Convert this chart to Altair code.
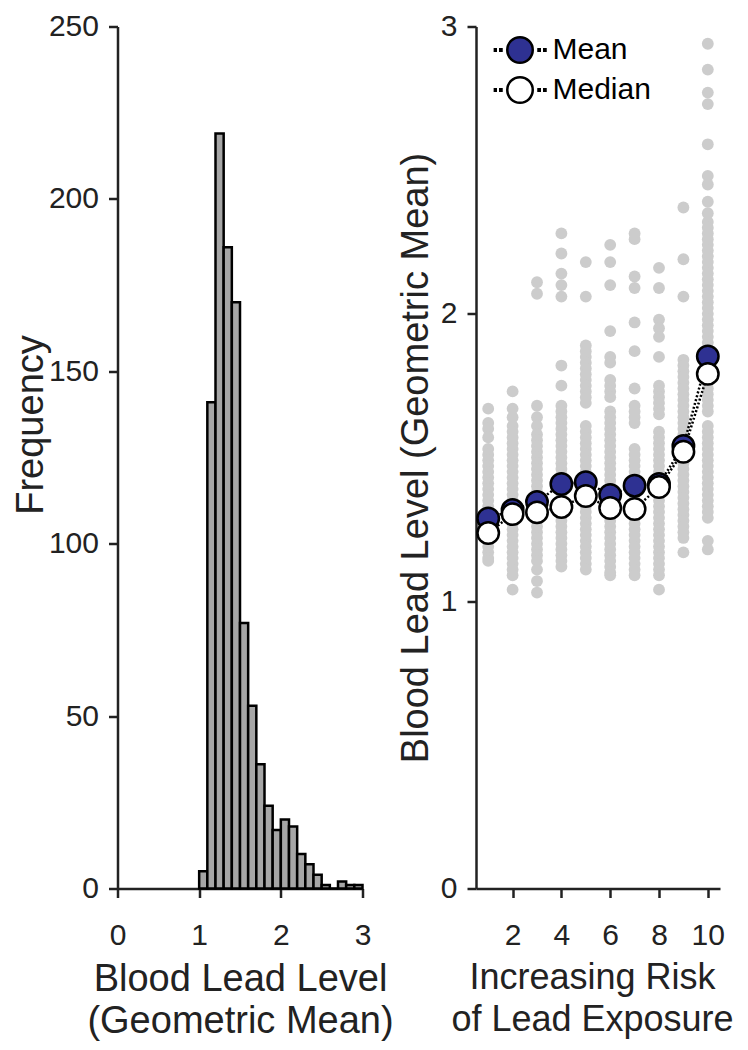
import altair as alt
import pandas as pd

# ---------------- data ----------------
bin_start = [1.0, 1.1, 1.2, 1.3, 1.4, 1.5, 1.6, 1.7, 1.8, 1.9,
             2.0, 2.1, 2.2, 2.3, 2.4, 2.5, 2.6, 2.7, 2.8, 2.9]
bin_end = [1.1, 1.2, 1.3, 1.4, 1.5, 1.6, 1.7, 1.8, 1.9, 2.0,
           2.1, 2.2, 2.3, 2.4, 2.5, 2.6, 2.7, 2.8, 2.9, 3.0]
counts = [5, 141, 219, 186, 170, 77, 53, 36, 24, 17,
          20, 18, 10, 7, 4, 1, 0, 2, 1, 1]

groups = [1, 2, 3, 4, 5, 6, 7, 8, 9, 10]
means = [1.288, 1.317, 1.345, 1.408, 1.414, 1.370, 1.402, 1.408, 1.540, 1.852]
medians = [1.237, 1.303, 1.309, 1.328, 1.366, 1.324, 1.321, 1.397, 1.520, 1.791]

g1 = [1.67, 1.62, 1.60, 1.57, 1.53, 1.51, 1.49, 1.47, 1.45, 1.43, 1.41, 1.39,
      1.37, 1.35, 1.33, 1.31, 1.29, 1.27, 1.25, 1.23, 1.21, 1.19, 1.17, 1.15, 1.14]
g2 = [1.73, 1.67, 1.64, 1.61, 1.59, 1.57, 1.55, 1.53, 1.51, 1.49, 1.47, 1.45,
      1.43, 1.41, 1.39, 1.37, 1.35, 1.33, 1.31, 1.29, 1.27, 1.25, 1.23, 1.21,
      1.19, 1.17, 1.15, 1.13, 1.11, 1.09, 1.04]
g3 = [2.11, 2.07, 1.68, 1.64, 1.61, 1.58, 1.56, 1.54, 1.52, 1.50, 1.48, 1.46,
      1.44, 1.42, 1.40, 1.38, 1.36, 1.34, 1.32, 1.30, 1.28, 1.26, 1.24, 1.22,
      1.20, 1.18, 1.16, 1.14, 1.11, 1.07, 1.03]
g4 = [2.28, 2.21, 2.14, 2.10, 2.06, 1.82, 1.75, 1.68, 1.66, 1.64, 1.62, 1.60,
      1.58, 1.56, 1.54, 1.52, 1.50, 1.48, 1.46, 1.44, 1.42, 1.40, 1.38, 1.36,
      1.34, 1.32, 1.30, 1.28, 1.26, 1.24, 1.22, 1.20, 1.18, 1.16, 1.14, 1.12]
g5 = [2.18, 2.06, 1.89, 1.87, 1.85, 1.83, 1.81, 1.79, 1.77, 1.75, 1.73, 1.71,
      1.69, 1.61, 1.59, 1.57, 1.55, 1.53, 1.51, 1.49, 1.47, 1.45, 1.43, 1.41,
      1.39, 1.37, 1.35, 1.33, 1.31, 1.29, 1.27, 1.25, 1.23, 1.21, 1.19, 1.17,
      1.15, 1.13, 1.11]
g6 = [2.24, 2.18, 2.10, 1.94, 1.85, 1.83, 1.77, 1.75, 1.73, 1.71, 1.66, 1.64,
      1.62, 1.60, 1.58, 1.56, 1.54, 1.52, 1.50, 1.48, 1.46, 1.44, 1.42, 1.40,
      1.38, 1.36, 1.34, 1.32, 1.30, 1.28, 1.26, 1.24, 1.22, 1.20, 1.18, 1.16,
      1.14, 1.12, 1.10, 1.09]
g7 = [2.28, 2.26, 2.13, 2.09, 1.97, 1.87, 1.74, 1.68, 1.66, 1.64, 1.62, 1.53,
      1.51, 1.49, 1.47, 1.45, 1.43, 1.41, 1.39, 1.37, 1.35, 1.33, 1.31, 1.29,
      1.27, 1.25, 1.23, 1.21, 1.19, 1.17, 1.15, 1.13, 1.11, 1.09]
g8 = [2.16, 2.09, 1.98, 1.95, 1.92, 1.85, 1.75, 1.73, 1.71, 1.69, 1.67, 1.65,
      1.59, 1.57, 1.55, 1.53, 1.51, 1.49, 1.47, 1.45, 1.43, 1.41, 1.39, 1.37,
      1.35, 1.33, 1.31, 1.29, 1.27, 1.25, 1.23, 1.21, 1.19, 1.17, 1.15, 1.13,
      1.11, 1.09, 1.04]
g9 = [2.37, 2.19, 2.06, 1.84, 1.82, 1.80, 1.78, 1.76, 1.74, 1.72, 1.70, 1.68,
      1.66, 1.64, 1.62, 1.60, 1.58, 1.56, 1.54, 1.52, 1.50, 1.48, 1.46, 1.44,
      1.42, 1.40, 1.38, 1.36, 1.34, 1.32, 1.30, 1.28, 1.26, 1.24, 1.22, 1.17]
g10 = [2.94, 2.85, 2.77, 2.73, 2.59, 2.48, 2.45, 2.39, 2.35, 2.32, 2.30, 2.28,
       2.26, 2.24, 2.22, 2.20, 2.18, 2.16, 2.14, 2.12, 2.10, 2.08, 2.06, 2.04,
       2.02, 2.00, 1.98, 1.96, 1.94, 1.92, 1.90, 1.88, 1.86, 1.84, 1.82, 1.80,
       1.78, 1.76, 1.74, 1.72, 1.70, 1.68, 1.66, 1.61, 1.59, 1.57, 1.55, 1.53,
       1.51, 1.49, 1.47, 1.45, 1.43, 1.41, 1.39, 1.37, 1.35, 1.33, 1.31, 1.29,
       1.21, 1.18]
group_values = [g1, g2, g3, g4, g5, g6, g7, g8, g9, g10]

hist_df = pd.DataFrame({"start": bin_start, "end": bin_end, "count": counts})
dots_df = pd.DataFrame(
    [{"group": g, "value": v} for g, vals in zip(groups, group_values) for v in vals]
)
summary_df = pd.DataFrame(
    {"group": groups * 2,
     "value": means + medians,
     "stat": ["Mean"] * len(groups) + ["Median"] * len(groups)}
)

FONT = "Liberation Sans"
AX = "#222222"
PAD_L = 109.5
PAD_T = 18.5
H = 862
LEFT_W = 245
RIGHT_W = 244
GAP = 113.5

axis_common = dict(
    domainColor=AX, domainWidth=2.5, tickColor=AX, tickWidth=2.5, tickSize=9,
    labelColor=AX, labelFont=FONT, labelFontSize=30, labelFlush=False,
    labelOverlap=False, titleColor=AX,
    titleFont=FONT, titleFontWeight="normal", grid=False,
)

# ---------------- left: histogram ----------------
hist = alt.Chart(hist_df).mark_rect(
    fill="#A6A6A6", stroke="black", strokeWidth=2.5
).encode(
    x=alt.X("start:Q", scale=alt.Scale(domain=[0, 3], nice=False),
            axis=alt.Axis(values=[0, 1, 2, 3], format="d", labelPadding=23,
                          titlePadding=10, titleLineHeight=42, titleFontSize=38,
                          title=["Blood Lead Level", "(Geometric Mean)"],
                          **axis_common)),
    x2="end:Q",
    y=alt.Y("count:Q", scale=alt.Scale(domain=[0, 250], nice=False),
            axis=alt.Axis(values=[0, 50, 100, 150, 200, 250], format="d",
                          labelPadding=10, titlePadding=-2, titleFontSize=38,
                          titleY=398, title="Frequency", **axis_common)),
    y2=alt.datum(0),
).properties(width=LEFT_W, height=H)

# ---------------- right: strip plot ----------------
xscale = alt.Scale(domain=[0.5, 10.5], nice=False)
yscale = alt.Scale(domain=[0, 3], nice=False)
xaxis = alt.Axis(values=[2, 4, 6, 8, 10], format="d", labelPadding=23,
                 titlePadding=10, titleLineHeight=42, titleFontSize=36,
                 titleX=116,
                 title=["Increasing Risk", "of Lead Exposure"], **axis_common)
yaxis = alt.Axis(values=[0, 1, 2, 3], format="d", labelPadding=10, titlePadding=5,
                 titleFontSize=38,
                 title="Blood Lead Level (Geometric Mean)", **axis_common)

dots = alt.Chart(dots_df).mark_circle(size=140, color="#CCCCCC", opacity=1).encode(
    x=alt.X("group:Q", scale=xscale, axis=xaxis),
    y=alt.Y("value:Q", scale=yscale, axis=yaxis),
)

lines = alt.Chart(summary_df).mark_line(
    color="black", strokeWidth=2.5, strokeDash=[2, 2]
).encode(
    x=alt.X("group:Q", scale=xscale),
    y=alt.Y("value:Q", scale=yscale),
    detail="stat:N",
)

legend_symbol = (
    "M0.51,0A0.51,0.51,0,1,1,-0.51,0A0.51,0.51,0,1,1,0.51,0Z"
    "M-1.02,-0.03h0.05v0.06h-0.05Z"
    "M-0.79,-0.03h0.05v0.06h-0.05Z"
    "M0.74,-0.03h0.05v0.06h-0.05Z"
    "M0.97,-0.03h0.05v0.06h-0.05Z"
)

points = alt.Chart(summary_df).mark_point(
    filled=True, size=460, stroke="black", strokeWidth=2.5, opacity=1
).encode(
    x=alt.X("group:Q", scale=xscale),
    y=alt.Y("value:Q", scale=yscale),
    fill=alt.Fill(
        "stat:N",
        scale=alt.Scale(domain=["Mean", "Median"], range=["#2E3192", "#FFFFFF"]),
        legend=alt.Legend(
            title=None, orient="none", legendX=376, legendY=4.5,
            symbolType=legend_symbol, symbolSize=2500,
            symbolStrokeColor="black", symbolStrokeWidth=2.5, symbolOpacity=1,
            clipHeight=38, rowPadding=2, labelOffset=6,
            labelFont=FONT, labelFontSize=30, labelColor="black",
        ),
    ),
    order=alt.Order("stat:N"),
)

right = alt.layer(dots, lines, points).properties(width=RIGHT_W, height=H)

chart = alt.hconcat(hist, right, spacing=GAP, bounds="flush").properties(
    autosize=alt.AutoSizeParams(type="none"),
    padding={"left": PAD_L, "top": PAD_T,
             "right": 732 - PAD_L, "bottom": 1034 - PAD_T},
).configure(font=FONT, view=alt.ViewConfig(stroke=None))

chart.save("out.html", embed_options={"renderer": "svg", "actions": False})
